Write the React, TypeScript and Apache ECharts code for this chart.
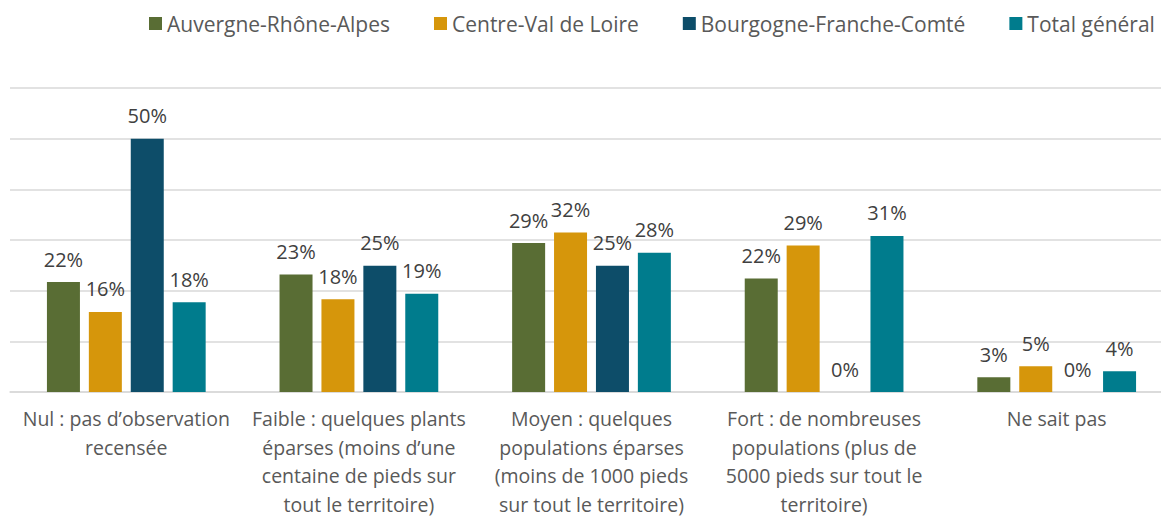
import React, { useEffect, useRef } from "react";
import * as echarts from "echarts";

const categories = [
  "Nul : pas d\u2019observation\nrecensée",
  "Faible : quelques plants\néparses (moins d\u2019une\ncentaine de pieds sur\ntout le territoire)",
  "Moyen : quelques\npopulations éparses\n(moins de 1000 pieds\nsur tout le territoire)",
  "Fort : de nombreuses\npopulations (plus de\n5000 pieds sur tout le\nterritoire)",
  "Ne sait pas",
];

const seriesNames = [
  "Auvergne-Rhône-Alpes",
  "Centre-Val de Loire",
  "Bourgogne-Franche-Comté",
  "Total général",
];

const auvergne = [21.7, 23.2, 29.4, 22.4, 2.9];
const centre = [15.8, 18.3, 31.5, 28.9, 5.1];
const bourgogne = [50, 24.9, 24.9, 0, 0];
const total = [17.7, 19.4, 27.5, 30.8, 4.1];

const colors = ["#596d34", "#d6960b", "#0d4d69", "#007c8d"];

const FONT = "'Open Sans', 'Noto Sans', sans-serif";

export default function App() {
  const ref = useRef<HTMLDivElement>(null);
  useEffect(() => {
    if (!ref.current) return;
    const chart = echarts.init(ref.current, null, { renderer: "svg" });
    const data = [auvergne, centre, bourgogne, total];
    chart.setOption({
      animation: false,
      textStyle: { fontFamily: FONT },
      legend: {
        top: 8,
        left: 144,
        width: 1200,
        itemWidth: 13,
        itemHeight: 13,
        itemGap: 44,
        icon: "rect",
        textStyle: { fontSize: 21, color: "#595959", fontFamily: FONT },
        data: seriesNames,
      },
      grid: {
        left: 10,
        right: -12,
        top: 88,
        bottom: 127,
        containLabel: false,
        outerBoundsMode: "none",
      },
      xAxis: {
        type: "category",
        data: categories,
        axisLine: { show: true, lineStyle: { color: "#d9d9d9", width: 1.5 } },
        axisTick: { show: false },
        axisLabel: {
          interval: 0,
          fontSize: 19.5,
          color: "#595959",
          lineHeight: 28.5,
          margin: 12.5,
          fontFamily: FONT,
        },
      },
      yAxis: {
        type: "value",
        min: 0,
        max: 60,
        interval: 10,
        axisLabel: { show: false },
        axisLine: { show: false },
        axisTick: { show: false },
        splitLine: { lineStyle: { color: "#d9d9d9", width: 1.5 } },
      },
      series: seriesNames.map((name, i) => ({
        name,
        type: "bar",
        data: data[i],
        barWidth: 33,
        barGap: "27%",
        itemStyle: { color: colors[i] },
        label: {
          show: true,
          position: "top",
          distance: 13,
          fontSize: 20,
          color: "#404040",
          fontFamily: FONT,
          formatter: (p: any) => Math.round(p.value) + "%",
        },
      })),
    });
    return () => chart.dispose();
  }, []);
  return (
    <div
      ref={ref}
      style={{ position: "absolute", left: 0, top: 0, width: 1161, height: 519, background: "#fff" }}
    />
  );
}
